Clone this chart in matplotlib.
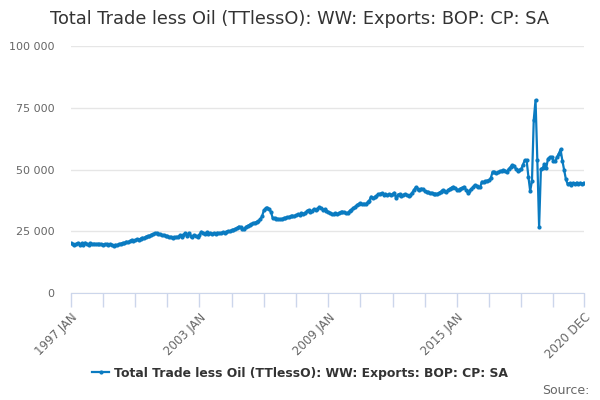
import numpy as np
import matplotlib
matplotlib.use("Agg")
import matplotlib.pyplot as plt
from matplotlib.ticker import FuncFormatter

# monthly values, 1997 JAN .. 2020 DEC
y1997 = [20200, 19800, 19400, 19900, 20300, 19600, 20100, 19500, 20400, 19800, 19600, 20200]
y1998 = [19700, 20000, 19800, 19900, 19700, 19800, 19600, 19800, 19700, 19500, 19700, 19600]
y1999 = [19200, 19500, 19400, 19800, 20000, 20300, 20100, 20800, 20600, 20900, 21500, 21200]
y2000 = [21300, 21800, 21600, 22000, 22400, 22200, 22800, 23100, 23000, 23600, 23900, 24100]
y2001 = [24200, 23900, 23700, 23300, 23500, 23200, 22900, 22600, 22800, 22400, 22600, 22700]
y2002 = [22800, 23300, 22600, 23600, 24200, 23000, 24300, 23200, 22800, 23400, 23000, 22700]
y2003 = [23500, 24800, 24400, 23800, 24600, 23900, 24300, 24000, 24200, 23900, 24400, 24200]
y2004 = [24300, 24500, 24300, 24800, 25100, 25000, 25400, 25600, 26000, 26300, 26900, 26700]
y2005 = [25900, 26000, 26800, 27200, 27600, 27900, 28200, 28500, 28800, 29100, 29800, 31000]
y2006 = [33500, 34300, 34500, 34000, 32800, 30200, 30400, 30100, 30000, 29800, 30000, 30200]
y2007 = [30400, 30600, 30800, 31000, 31300, 31100, 31500, 31800, 31600, 32300, 32000, 32500]
y2008 = [33000, 33600, 32800, 33300, 34000, 33500, 34200, 34700, 34300, 33800, 33900, 33400]
y2009 = [32800, 32500, 32100, 31800, 32300, 31900, 32400, 32700, 32900, 32600, 32300, 32500]
y2010 = [33200, 33800, 34300, 34900, 35500, 36000, 36300, 35900, 36200, 36000, 36700, 37400]
y2011 = [39000, 38300, 38800, 39400, 39900, 40200, 40400, 39800, 40100, 39500, 40000, 39700]
y2012 = [40000, 40600, 38300, 39800, 40100, 39300, 39700, 40000, 39600, 39400, 39700, 40500]
y2013 = [41800, 42800, 42200, 41600, 42300, 42000, 41300, 41000, 40700, 40400, 40600, 40200]
y2014 = [40200, 40100, 40500, 41000, 41700, 41300, 41000, 41600, 42200, 42700, 43000, 42400]
y2015 = [41900, 41700, 42300, 42600, 43000, 41800, 40600, 41300, 42000, 42800, 43700, 43200]
y2016 = [42900, 42800, 45100, 44800, 45300, 45500, 45700, 46600, 49100, 48800, 48500, 48900]
y2017 = [49200, 49500, 49800, 49500, 49100, 50200, 51000, 51800, 51500, 50300, 49400, 49800]
y2018 = [50200, 52000, 53800, 53800, 47100, 41300, 45300, 70100, 78100, 53800, 26700, 50200]
y2019 = [50600, 52200, 50800, 54400, 55000, 55100, 53400, 53400, 55000, 56400, 58100, 53600]
y2020 = [49800, 46000, 44000, 44500, 43800, 44600, 44200, 44700, 44300, 44600, 44300, 44600]

values = (y1997 + y1998 + y1999 + y2000 + y2001 + y2002 + y2003 + y2004 + y2005 + y2006
          + y2007 + y2008 + y2009 + y2010 + y2011 + y2012 + y2013 + y2014 + y2015 + y2016
          + y2017 + y2018 + y2019 + y2020)
x_labels = {0: "1997 JAN", 72: "2003 JAN", 144: "2009 JAN", 216: "2015 JAN", 287: "2020 DEC"}
series_name = "Total Trade less Oil (TTlessO): WW: Exports: BOP: CP: SA"

blue = "#0a7bc1"
grid_c = "#e6e6e6"
axis_c = "#ccd6eb"
text_c = "#666666"

fig = plt.figure(figsize=(6, 4), dpi=100)
ax = fig.add_axes([0.118, 0.2675, 0.855, 0.6175])

x = np.arange(len(values))
ax.plot(x, values, color=blue, lw=1.6, marker="o", ms=2.0, label=series_name)

ax.set_xlim(0, len(values) - 1)
ax.set_ylim(0, 100000)
ax.set_yticks([0, 25000, 50000, 75000, 100000])
ax.yaxis.set_major_formatter(FuncFormatter(lambda v, p: f"{int(v):,}".replace(",", " ")))
ax.grid(axis="y", color=grid_c, lw=1)
ax.set_axisbelow(True)

tick_pos = list(range(0, 288, 18)) + [287]
ax.set_xticks(tick_pos)
ax.set_xticklabels([x_labels.get(t, "") for t in tick_pos], rotation=45, ha="right",
                   rotation_mode="anchor", fontsize=8.5, color=text_c)
ax.tick_params(axis="x", length=10, color=axis_c, width=1, pad=3)
ax.tick_params(axis="y", length=0, labelsize=8, labelcolor=text_c, pad=12)

for s in ["top", "right", "left"]:
    ax.spines[s].set_visible(False)
ax.spines["bottom"].set_color(axis_c)

fig.text(0.5, 0.953, series_name, ha="center", va="center", fontsize=12.8, color="#333333")
leg = fig.legend(loc="center", bbox_to_anchor=(0.5, 0.067), frameon=False,
                 prop={"size": 8.9, "weight": "bold"}, handlelength=1.4, handletextpad=0.4)
for t in leg.get_texts():
    t.set_color("#333333")
fig.text(0.982, 0.025, "Source:", ha="right", va="center", fontsize=9, color=text_c)

fig.savefig("out.png", dpi=100)
